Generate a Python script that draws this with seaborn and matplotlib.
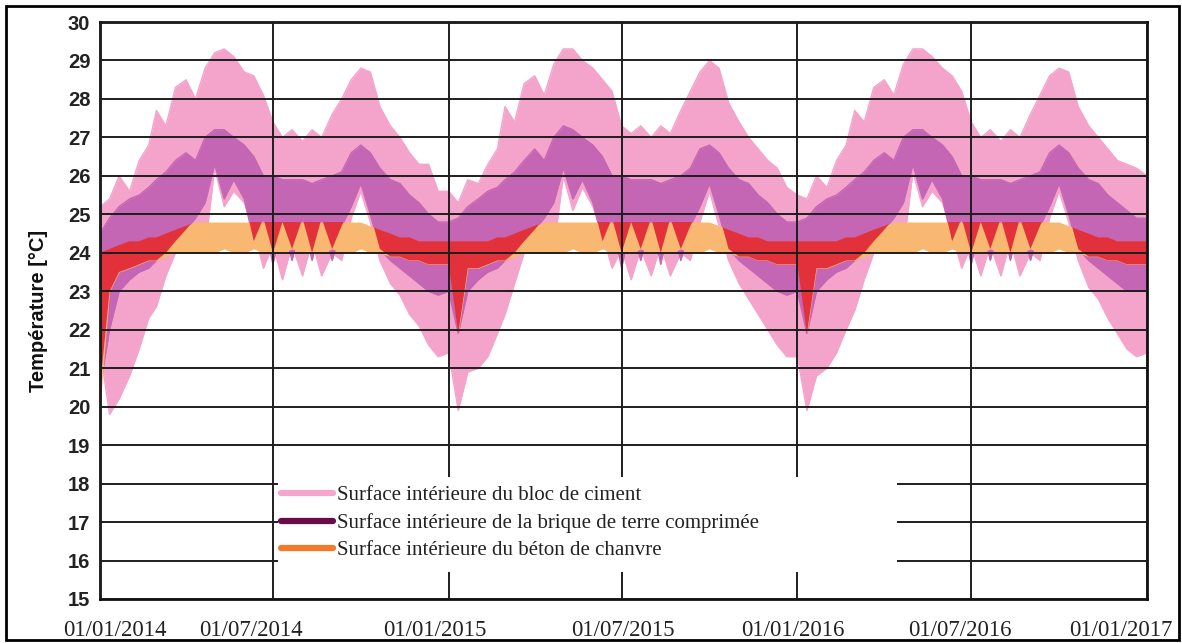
import numpy as np
import pandas as pd
import matplotlib
matplotlib.use("Agg")
import matplotlib.pyplot as plt
import matplotlib.dates as mdates
import matplotlib.transforms as mtransforms
from matplotlib.lines import Line2D
from matplotlib.patches import Rectangle
import seaborn as sns

# ---------------- data (°C), read at day 1, 11 and 21 of every month ----------------
years = [2014, 2015, 2016]
sample_days = [1, 11, 21]
end_date = "2017-01-01"

# Surface intérieure du bloc de ciment (upper / lower envelope)
cement_hi_2014 = [25.2, 25.4, 26.0, 25.6, 26.4, 26.8, 27.7, 27.3, 28.3, 28.5, 28.0, 28.8,
                  29.2, 29.3, 29.1, 28.7, 28.6, 28.1, 27.4, 27.0, 27.2, 26.9, 27.2, 27.0,
                  27.6, 28.0, 28.5, 28.8, 28.7, 27.8, 27.3, 27.0, 26.6, 26.3, 26.3, 25.6]
cement_hi_2015 = [25.6, 25.3, 25.9, 25.8, 26.3, 26.7, 27.8, 27.4, 28.4, 28.6, 28.1, 28.9,
                  29.3, 29.3, 29.0, 28.8, 28.5, 28.2, 27.3, 27.1, 27.3, 27.0, 27.3, 27.1,
                  27.7, 28.2, 28.7, 29.0, 28.8, 27.9, 27.4, 27.0, 26.7, 26.4, 26.2, 25.7]
cement_hi_2016 = [25.5, 25.4, 26.0, 25.7, 26.4, 26.8, 27.7, 27.4, 28.3, 28.5, 28.1, 28.9,
                  29.3, 29.3, 29.1, 28.8, 28.6, 28.2, 27.4, 27.0, 27.2, 26.9, 27.2, 27.0,
                  27.6, 28.1, 28.6, 28.8, 28.7, 27.8, 27.3, 27.0, 26.7, 26.4, 26.3, 26.2]
cement_hi_end = 26.0

cement_lo_2014 = [21.5, 19.8, 20.2, 20.8, 21.5, 22.3, 22.6, 23.4, 24.0, 24.0, 24.0, 24.1,
                  26.2, 25.2, 25.6, 25.3, 24.6, 23.6, 24.2, 23.3, 24.2, 23.4, 24.3, 23.4,
                  24.0, 23.8, 24.9, 25.6, 24.8, 23.8, 23.2, 22.9, 22.4, 22.1, 21.6, 21.3]
cement_lo_2015 = [21.4, 19.9, 20.9, 21.0, 21.3, 21.9, 22.4, 23.2, 24.0, 24.0, 24.0, 24.1,
                  26.0, 25.1, 25.7, 25.2, 24.5, 23.6, 24.1, 23.3, 24.1, 23.4, 24.2, 23.4,
                  24.0, 23.8, 24.8, 25.6, 24.7, 23.8, 23.2, 22.8, 22.4, 22.0, 21.6, 21.3]
cement_lo_2016 = [21.3, 19.9, 20.8, 21.0, 21.4, 22.0, 22.5, 23.3, 24.0, 24.0, 24.0, 24.1,
                  26.1, 25.2, 25.6, 25.3, 24.5, 23.6, 24.2, 23.4, 24.2, 23.4, 24.3, 23.4,
                  24.0, 23.8, 24.9, 25.6, 24.8, 23.8, 23.1, 22.8, 22.3, 21.9, 21.5, 21.3]
cement_lo_end = 21.4

# Surface intérieure de la brique de terre comprimée
brick_hi_2014 = [24.5, 24.9, 25.2, 25.4, 25.5, 25.7, 25.9, 26.1, 26.4, 26.6, 26.4, 27.0,
                 27.2, 27.2, 27.0, 26.8, 26.5, 26.0, 26.0, 25.9, 25.9, 25.9, 25.8, 25.9,
                 26.0, 26.1, 26.6, 26.8, 26.6, 26.2, 25.9, 25.8, 25.5, 25.3, 25.0, 24.8]
brick_hi_2015 = [24.8, 24.9, 25.2, 25.4, 25.6, 25.7, 25.9, 26.1, 26.4, 26.7, 26.4, 27.0,
                 27.3, 27.2, 27.0, 26.8, 26.5, 26.0, 26.0, 25.9, 25.9, 25.9, 25.8, 25.9,
                 26.0, 26.2, 26.7, 26.8, 26.6, 26.2, 25.9, 25.8, 25.5, 25.3, 25.0, 24.8]
brick_hi_2016 = [24.8, 24.9, 25.2, 25.4, 25.5, 25.7, 25.9, 26.1, 26.4, 26.6, 26.4, 27.0,
                 27.2, 27.2, 27.0, 26.8, 26.5, 26.0, 26.0, 25.9, 25.9, 25.9, 25.8, 25.9,
                 26.0, 26.1, 26.6, 26.8, 26.6, 26.2, 25.9, 25.8, 25.5, 25.3, 25.1, 24.9]
brick_hi_end = 24.9

brick_lo_2014 = [20.5, 22.0, 23.0, 23.3, 23.5, 23.6, 23.8, 24.0, 24.3, 24.6, 24.9, 25.3,
                 26.3, 25.4, 25.9, 25.4, 24.3, 24.9, 23.7, 24.8, 23.8, 24.9, 23.8, 24.9,
                 23.8, 24.7, 25.2, 25.8, 25.0, 24.1, 23.8, 23.6, 23.4, 23.2, 23.0, 22.9]
brick_lo_2015 = [23.0, 21.9, 23.0, 23.3, 23.5, 23.6, 23.8, 24.0, 24.3, 24.6, 24.9, 25.3,
                 26.2, 25.4, 25.9, 25.3, 24.3, 24.9, 23.6, 24.8, 23.8, 24.9, 23.7, 24.9,
                 23.8, 24.7, 25.2, 25.8, 25.0, 24.1, 23.8, 23.6, 23.4, 23.2, 23.0, 22.9]
brick_lo_2016 = [23.0, 21.9, 23.0, 23.3, 23.5, 23.6, 23.8, 24.0, 24.3, 24.6, 24.9, 25.3,
                 26.3, 25.4, 25.9, 25.4, 24.3, 24.9, 23.7, 24.8, 23.8, 24.9, 23.8, 24.9,
                 23.8, 24.7, 25.2, 25.8, 25.0, 24.1, 23.8, 23.6, 23.4, 23.2, 23.0, 23.0]
brick_lo_end = 23.0

# Surface intérieure du béton de chanvre
hemp_hi_2014 = [24.0, 24.1, 24.2, 24.3, 24.3, 24.4, 24.4, 24.5, 24.6, 24.7, 24.8, 24.8,
                24.8, 24.8, 24.8, 24.8, 24.8, 24.8, 24.8, 24.8, 24.8, 24.8, 24.8, 24.8,
                24.8, 24.8, 24.8, 24.8, 24.7, 24.6, 24.5, 24.4, 24.4, 24.3, 24.3, 24.3]
hemp_hi_2015 = [24.3, 24.3, 24.3, 24.3, 24.3, 24.4, 24.4, 24.5, 24.6, 24.7, 24.8, 24.8,
                24.8, 24.8, 24.8, 24.8, 24.8, 24.8, 24.8, 24.8, 24.8, 24.8, 24.8, 24.8,
                24.8, 24.8, 24.8, 24.8, 24.7, 24.6, 24.5, 24.4, 24.4, 24.3, 24.3, 24.3]
hemp_hi_2016 = [24.3, 24.3, 24.3, 24.3, 24.3, 24.4, 24.4, 24.5, 24.6, 24.7, 24.8, 24.8,
                24.8, 24.8, 24.8, 24.8, 24.8, 24.8, 24.8, 24.8, 24.8, 24.8, 24.8, 24.8,
                24.8, 24.8, 24.8, 24.8, 24.7, 24.6, 24.5, 24.4, 24.4, 24.3, 24.3, 24.3]
hemp_hi_end = 24.3

hemp_lo_2014 = [20.0, 23.0, 23.5, 23.6, 23.7, 23.8, 23.8, 23.9, 24.0, 24.0, 24.0, 24.0,
                24.0, 24.1, 24.0, 24.0, 24.1, 24.0, 24.0, 24.0, 24.1, 24.0, 24.0, 24.0,
                24.1, 24.0, 24.0, 24.1, 24.0, 24.0, 23.9, 23.9, 23.8, 23.8, 23.7, 23.7]
hemp_lo_2015 = [23.7, 21.9, 23.6, 23.6, 23.7, 23.8, 23.8, 23.9, 24.0, 24.0, 24.0, 24.0,
                24.0, 24.1, 24.0, 24.0, 24.1, 24.0, 24.0, 24.0, 24.1, 24.0, 24.0, 24.0,
                24.1, 24.0, 24.0, 24.1, 24.0, 24.0, 23.9, 23.9, 23.8, 23.8, 23.7, 23.7]
hemp_lo_2016 = [23.7, 21.9, 23.6, 23.6, 23.7, 23.8, 23.8, 23.9, 24.0, 24.0, 24.0, 24.0,
                24.0, 24.1, 24.0, 24.0, 24.1, 24.0, 24.0, 24.0, 24.1, 24.0, 24.0, 24.0,
                24.1, 24.0, 24.0, 24.1, 24.0, 24.0, 23.9, 23.9, 23.8, 23.8, 23.7, 23.7]
hemp_lo_end = 23.7

series_labels = ["Surface intérieure du bloc de ciment",
                 "Surface intérieure de la brique de terre comprimée",
                 "Surface intérieure du béton de chanvre"]

tick_dates = ["2014-01-01", "2014-07-01", "2015-01-01", "2015-07-01",
              "2016-01-01", "2016-07-01", "2017-01-01"]
tick_labels = ["01/01/2014", "01/07/2014", "01/01/2015", "01/07/2015",
               "01/01/2016", "01/07/2016", "01/01/2017"]
y_ticks = list(range(15, 31))

# ---------------- build table ----------------
dates = [pd.Timestamp(year=y, month=m, day=d) for y in years
         for m in range(1, 13) for d in sample_days] + [pd.Timestamp(end_date)]
df = pd.DataFrame({
    "date": dates,
    "cement_hi": cement_hi_2014 + cement_hi_2015 + cement_hi_2016 + [cement_hi_end],
    "cement_lo": cement_lo_2014 + cement_lo_2015 + cement_lo_2016 + [cement_lo_end],
    "brick_hi": brick_hi_2014 + brick_hi_2015 + brick_hi_2016 + [brick_hi_end],
    "brick_lo": brick_lo_2014 + brick_lo_2015 + brick_lo_2016 + [brick_lo_end],
    "hemp_hi": hemp_hi_2014 + hemp_hi_2015 + hemp_hi_2016 + [hemp_hi_end],
    "hemp_lo": hemp_lo_2014 + hemp_lo_2015 + hemp_lo_2016 + [hemp_lo_end],
})
xnum = mdates.date2num(df["date"])

# ---------------- style ----------------
sns.set_theme(style="white")
plt.rcParams["font.family"] = ["Liberation Sans", "DejaVu Sans"]

PINK = "#F4A3CB"
PURPLE_FILL = "#C466B4"
PEACH = "#F8B872"
RED = "#E2313A"
LEG_PINK = "#F4A6CC"
LEG_PURPLE = "#6A0B4C"
LEG_ORANGE = "#F27A2A"

W, H = 1182, 643
fig = plt.figure(figsize=(W / 100, H / 100), dpi=100)
ax = fig.add_axes([100 / W, 44 / H, 1047 / W, 577 / H])

# cement band
ax.fill_between(xnum, df["cement_lo"], df["cement_hi"], color=PINK, lw=0, zorder=1.0)
# brick band
ax.fill_between(xnum, df["brick_lo"], df["brick_hi"], color=PURPLE_FILL, lw=0, zorder=1.2)
# hemp band
ax.fill_between(xnum, df["hemp_lo"], df["hemp_hi"], color=PEACH, lw=0, zorder=1.4)
# overlap of brick and hemp oscillations
ov_lo = np.maximum(df["brick_lo"].values, df["hemp_lo"].values)
ov_hi = np.minimum(df["brick_hi"].values, df["hemp_hi"].values)
ax.fill_between(xnum, ov_lo, ov_hi, where=ov_hi > ov_lo, interpolate=True,
                color=RED, lw=0, zorder=1.6)

df["x"] = xnum
for col, colr, z in [("cement_hi", PINK, 1.05), ("cement_lo", PINK, 1.05),
                     ("brick_hi", PURPLE_FILL, 1.25), ("brick_lo", PURPLE_FILL, 1.25)]:
    sns.lineplot(data=df, x="x", y=col, color=colr, lw=1.0, estimator=None,
                 ax=ax, legend=False, zorder=z)

# axes
ax.set_xlim(xnum[0], xnum[-1])
ax.set_ylim(15, 30)
ax.set_xlabel("")
ax.set_ylabel("")
ax.set_xticks(mdates.date2num(pd.to_datetime(tick_dates)))
ax.set_xticklabels(tick_labels, fontfamily="Liberation Serif", fontsize=16.5, color="#222222")
ax.set_yticks(y_ticks)
ax.set_yticklabels([str(v) for v in y_ticks], fontweight="bold", fontsize=14.5,
                   color="#222222")
ax.tick_params(axis="both", length=0)
ax.tick_params(axis="x", pad=15)
ax.tick_params(axis="y", pad=7)

offsets_px = [15, -22, -14, 1, -5, -11, -26]
for lab, dx in zip(ax.get_xticklabels(), offsets_px):
    lab.set_transform(lab.get_transform() +
                      mtransforms.ScaledTranslation(dx / 100, 0, fig.dpi_scale_trans))

ax.grid(True, color="#1e1e1e", lw=1.4)
ax.set_axisbelow(False)
for sp in ax.spines.values():
    sp.set_visible(True)
    sp.set_color("#111111")
    sp.set_linewidth(2.0)

ax.set_ylabel("Température [°C]", fontweight="bold", fontsize=14.5, color="#111111")
ax.yaxis.set_label_coords(-0.050, 0.5)

# legend area
ax.add_patch(Rectangle((0.170, 0.047), 0.591, 0.164, transform=ax.transAxes,
                       facecolor="white", edgecolor="none", zorder=3))
handles = [Line2D([], [], color=LEG_PINK, lw=4.5),
           Line2D([], [], color=LEG_PURPLE, lw=4.5),
           Line2D([], [], color=LEG_ORANGE, lw=4.5)]
leg = ax.legend(handles, series_labels, loc="upper left",
                bbox_to_anchor=(0.1729, 0.196), frameon=False, borderpad=0,
                borderaxespad=0, handlelength=2.5, handletextpad=0.2,
                labelspacing=0.36, prop={"family": "Liberation Serif", "size": 15})
leg.set_zorder(6)
for t in leg.get_texts():
    t.set_color("#222222")

# outer frame
fig.patches.append(Rectangle((6 / W, 3 / H), (1179 - 6) / W, (640 - 6) / H,
                             transform=fig.transFigure, fill=False,
                             edgecolor="black", lw=2.0))

fig.savefig("out.png", dpi=100)
